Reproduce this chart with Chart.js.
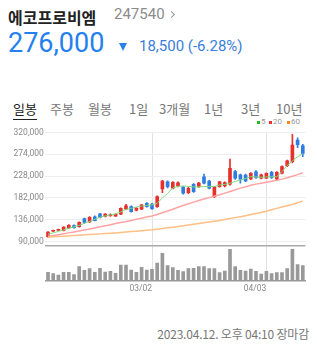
<!DOCTYPE html>
<html>
<head>
<meta charset="utf-8">
<script src="https://cdn.jsdelivr.net/npm/chart.js@4"></script>
<style>
  body { margin: 0; width: 317px; height: 355px; background: #fff; overflow: hidden; position: relative;
         font-family: Roboto, "Noto Sans CJK KR", sans-serif; }
  .abs { position: absolute; white-space: nowrap; line-height: 1; }
  #name { left: 8px; top: 5px; font: bold 16px "Noto Sans CJK KR"; color: #222; }
  #code { left: 114px; top: 7px; font-size: 15px; color: #8c8c8c; }
  #chev { left: 169px; top: 12px; width: 4px; height: 4px; border-top: 1.5px solid #999; border-right: 1.5px solid #999; transform: rotate(45deg); }
  #price { left: 8px; top: 30px; font-size: 27px; color: #2380ee; }
  #tri { left: 119px; top: 43px; width: 0; height: 0; border-left: 4.5px solid transparent; border-right: 4.5px solid transparent; border-top: 8.5px solid #2a7fe8; }
  #chg { left: 139px; top: 39px; font-size: 15px; color: #3b7ddc; }
  .tab { top: 99px; font: 13px "Noto Sans CJK KR"; color: #777; }
  #t0 { color: #222; border-bottom: 1.5px solid #222; padding-bottom: 1px; }
  .lg { top: 118px; font-size: 8px; color: #999; }
  .sq { position: absolute; top: 121px; width: 3px; height: 3px; }
  #stamp { right: 8px; top: 325px; font: 12px "Noto Sans CJK KR"; color: #777; letter-spacing: -0.2px; }
  #c { position: absolute; left: 0; top: 0; }
</style>
</head>
<body>
<div class="abs" id="name">에코프로비엠</div>
<div class="abs" id="code">247540</div>
<div class="abs" id="chev"></div>
<div class="abs" id="price">276,000</div>
<div class="abs" id="tri"></div>
<div class="abs" id="chg">18,500 (-6.28%)</div>

<div class="abs tab" id="t0" style="left:13px">일봉</div>
<div class="abs tab" style="left:50px">주봉</div>
<div class="abs tab" style="left:88px">월봉</div>
<div class="abs tab" style="left:129px">1일</div>
<div class="abs tab" style="left:159px">3개월</div>
<div class="abs tab" style="left:204px">1년</div>
<div class="abs tab" style="left:241px">3년</div>
<div class="abs tab" style="left:276px">10년</div>

<div class="sq" style="left:257px;background:#22b822"></div>
<div class="abs lg" style="left:261px">5</div>
<div class="sq" style="left:269px;background:#f03030"></div>
<div class="abs lg" style="left:273px">20</div>
<div class="sq" style="left:287px;background:#f88a1c"></div>
<div class="abs lg" style="left:291px">60</div>

<div class="abs" id="stamp">2023.04.12. 오후 04:10 장마감</div>

<canvas id="c" width="317" height="300"></canvas>

<script>
const dates = [
  "02/01","02/02","02/03","02/06","02/07","02/08","02/09","02/10","02/13","02/14",
  "02/15","02/16","02/17","02/20","02/21","02/22","02/23","02/24","02/27","02/28",
  "03/02","03/03","03/06","03/07","03/08","03/09","03/10","03/13","03/14","03/15",
  "03/16","03/17","03/20","03/21","03/22","03/23","03/24","03/27","03/28","03/29",
  "03/30","03/31","04/03","04/04","04/05","04/06","04/07","04/10","04/11","04/12"
];
const xTickLabels = ["03/02", "04/03"];
const priceTicks = [90000, 136000, 182000, 228000, 274000, 320000];

const opens = [100000,111500,113500,113000,118500,123500,121000,138000,131000,142000,
  148000,142500,144500,143500,147500,158000,163500,156000,158000,170500,
  169000,163500,201000,216000,202500,207000,204500,193000,210500,205500,
  226500,217500,184500,205500,207000,211000,237500,230500,230000,222000,
  237000,223500,223500,236000,222000,234000,250000,258500,304000,292000];
const highs = [110500,114000,116000,121000,125500,125000,131500,139500,142500,144000,
  149500,148500,148000,148000,161000,168500,165000,161500,168000,172000,
  170500,186000,219000,218000,216500,216000,206000,204000,212000,214500,
  232000,219000,206500,217000,216000,264000,240000,232000,232000,235500,
  239500,232000,235000,238000,237500,249500,262000,316000,309000,295000];
const lows = [99000,110500,112500,112000,117500,118000,120000,128000,130000,133000,
  139500,141500,143000,143000,146500,157000,151500,154500,157000,162500,
  157500,162000,193000,203000,201000,205000,190000,191000,193500,204000,
  211500,201000,182500,204500,205000,209000,221000,213000,216000,220500,
  223000,222000,222500,223000,220000,232500,248000,256000,288000,269000];
const closes = [109500,113000,114500,120000,124000,119000,130500,130000,141000,134000,
  140500,147500,145500,147000,160000,165000,153000,160000,167000,163500,
  159000,184500,217500,205500,215000,213500,192000,202000,195000,213000,
  213000,202500,205500,216000,214000,244500,223500,221500,218000,234000,
  224500,230500,234000,224500,236000,248000,260000,293500,294500,276000];
const volumes = [2500000,2100000,1700000,2500000,2500000,1800000,4200000,3100000,3600000,2500000,
  3700000,2600000,2800000,2200000,4700000,4700000,3200000,2500000,4000000,3200000,
  3400000,5300000,8200000,4500000,3900000,3100000,2700000,3600000,3700000,4200000,
  4200000,3600000,3600000,2400000,2900000,9400000,4200000,3100000,2900000,3500000,
  2800000,2000000,2800000,2100000,2400000,2400000,3600000,9400000,4800000,4500000];
const ma5 = [105200,108000,111100,114300,117800,120600,123800,128400,132200,136400,
  141100,143800,145900,148000,152300,157500,159600,162800,164500,166000,
  167000,170600,181800,191300,202900,206100,207100,206100,205000,205000,
  205600,206100,206100,209200,210300,212800,216600,219800,222900,226700,
  226100,225500,226100,226700,226700,237300,250400,259900,269000,274600];
const ma20 = [100800,102500,104200,106000,108000,110000,112000,114200,116300,118500,
  120800,123000,125300,127700,130100,132200,134300,136600,139000,141400,
  143800,147000,150500,154200,158000,162000,165800,169500,173000,176500,
  179500,182500,185500,188500,192000,195500,199000,202500,205500,208500,
  211000,213000,215000,217000,219000,221500,224500,227500,231000,235000];
const ma60 = [98900,99600,100300,101000,101700,102400,103100,103800,104500,105200,
  105900,106600,107300,108000,108800,109700,110700,111600,112500,113500,
  114500,115800,117200,118600,120000,121500,123000,124500,126000,127600,
  129200,130800,132500,134300,136200,138200,140200,142300,144400,146600,
  148900,151200,153600,157000,159800,162500,165200,168000,171500,175000];

const UP = "#e8302c", DOWN = "#2f7de0";
const candleColor = closes.map((c, i) => (c >= opens[i] ? UP : DOWN));
const fixWidth = (axis) => { axis.width = 45.4; };

new Chart(document.getElementById("c"), {
  type: "bar",
  data: {
    labels: dates,
    datasets: [
      { type: "line", data: ma60, borderColor: "#ffbf85", borderWidth: 1.5, pointRadius: 0, yAxisID: "y" },
      { type: "line", data: ma20, borderColor: "#ffa3a3", borderWidth: 1.5, pointRadius: 0, yAxisID: "y" },
      { type: "line", data: ma5, borderColor: "#7fdc7f", borderWidth: 1, pointRadius: 0, yAxisID: "y" },
      { data: lows.map((l, i) => [l, highs[i]]), backgroundColor: candleColor, barThickness: 1, grouped: false, yAxisID: "y" },
      { data: opens.map((o, i) => [o, closes[i]]), backgroundColor: candleColor, barThickness: 3, minBarLength: 1, grouped: false, yAxisID: "y" },
      { data: volumes, backgroundColor: "#999", barThickness: 3, grouped: false, yAxisID: "v" },
    ],
  },
  options: {
    animation: false,
    responsive: false,
    events: [],
    layout: { padding: { top: 132.5, left: 0, right: 11.6, bottom: 3.1 } },
    plugins: { legend: { display: false }, tooltip: { enabled: false } },
    scales: {
      x: {
        offset: true,
        grid: {
          offset: false, drawTicks: false,
          color: (ctx) => (ctx.tick && xTickLabels.includes(dates[ctx.index]) ? "#e2e2e2" : "transparent"),
        },
        border: { display: true, color: "#999", width: 1.5 },
        ticks: {
          autoSkip: false, maxRotation: 0, padding: 3, align: "end",
          color: "#888", font: { size: 8.5, family: "Roboto" },
          callback: (v, i) => (xTickLabels.includes(dates[i]) ? dates[i] : ""),
        },
      },
      v: {
        stack: "s", stackWeight: 1, position: "left",
        min: 0, max: 10500000,
        afterBuildTicks: (axis) => { axis.ticks = [{ value: 10500000 }]; },
        afterFit: fixWidth,
        grid: { color: "#aaa", lineWidth: 1.5, drawTicks: false },
        border: { display: false },
        ticks: { display: false },
      },
      y: {
        stack: "s", stackWeight: 3.23, position: "left",
        min: 81000, max: 320000,
        afterBuildTicks: (axis) => { axis.ticks = priceTicks.map((v) => ({ value: v })); },
        afterFit: fixWidth,
        grid: { color: "#eeeeee", drawTicks: false },
        border: { display: false },
        ticks: { autoSkip: false, padding: 1.5, color: "#888", font: { size: 8.5, family: "Roboto" },
                 callback: (v) => v.toLocaleString("en-US") },
      },
    },
  },
});
</script>
</body>
</html>
